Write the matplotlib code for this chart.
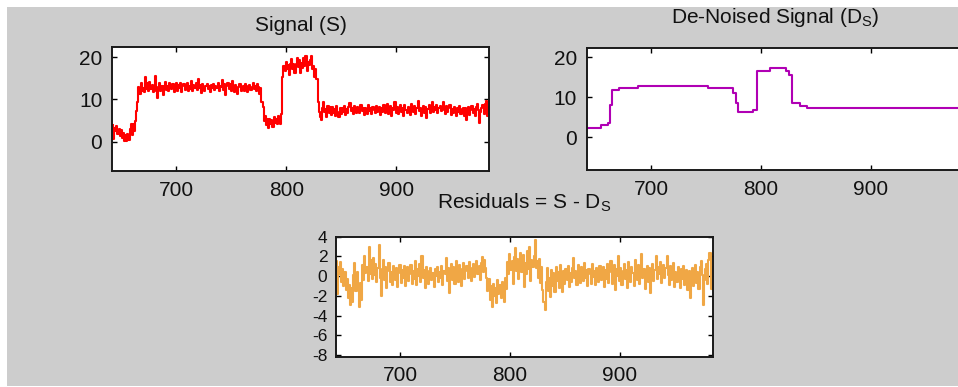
import numpy as np
import matplotlib
matplotlib.use('Agg')
from matplotlib import pyplot as plt
from matplotlib.patches import Rectangle

plt.rcParams['font.family'] = ['Liberation Sans', 'DejaVu Sans']
plt.rcParams['mathtext.fontset'] = 'custom'
plt.rcParams['mathtext.rm'] = 'Liberation Sans'
plt.rcParams['mathtext.it'] = 'Liberation Sans'
plt.rcParams['axes.unicode_minus'] = False

# sample index shown on the x axis
x = np.arange(642, 985)

# de-noised signal, read as runs of constant level
run_levels = [2.4, 3.0, 3.7, 8.0, 11.8, 12.3, 12.8, 12.3, 11.0, 8.5, 6.3, 6.8,
              16.6, 17.3, 16.5, 15.5, 8.5, 7.9, 7.4]
run_lengths = [13, 6, 2, 2, 6, 18, 63, 23, 3, 2, 13, 4,
               12, 14, 3, 3, 7, 6, 143]

# residuals S - Ds, one value per sample (642..984)
residuals = [
    1.5, -1.8, 0.9, 0.2, 1.4, -0.6, 0.7, -1.0, 0.4, -1.4,
    -0.3, -2.2, -0.9, -2.9, -1.2, -2.6, 0.1, 1.3, -1.5, 0.4,
    -1.1, -3.1, -0.7, -2.4, 1.1, -0.4, 2.0, 0.3, 0.9, -0.5,
    3.0, 0.2, 1.6, -0.3, 1.8, 0.1, 1.2, -0.6, 0.8, 3.2,
    -0.2, -2.0, 0.7, 1.6, -0.4, 0.9, -1.2, 0.5, 1.3, -0.6,
    0.4, -0.9, 1.0, 0.2, -0.4, 0.8, -1.1, 0.3, 1.1, -0.7,
    0.6, -0.2, 1.0, -1.0, 0.4, 0.9, -0.5, 0.2, 1.1, -0.8,
    0.5, -0.3, 1.5, -0.9, 0.7, 0.0, 1.2, -0.6, 2.0, -0.2,
    0.6, -1.2, 0.9, 0.1, -0.8, 0.5, 0.8, -0.4, 0.3, -1.1,
    0.7, 0.0, 0.9, -0.6, 0.4, -0.2, 1.0, -0.9, 0.5, 0.2,
    1.8, -0.5, 0.8, -1.7, 0.3, 1.2, -0.4, 0.9, -0.8, 1.5,
    0.2, -0.6, 1.1, 0.4, -1.0, 0.7, 1.3, -0.3, 0.5, 1.0,
    -0.2, 1.4, 0.3, -0.5, 0.8, 1.2, -0.1, 0.6, 1.5, 0.2,
    1.0, -0.4, 1.3, 1.9, 0.4, 1.6, 0.8, -0.2, -1.5, -0.3,
    -2.4, -1.0, -3.1, -0.8, -2.0, -1.2, -2.7, -0.4, -1.8, -0.9,
    -2.2, -0.6, -1.5, -2.6, -0.2, -1.3, 1.4, 0.2, 2.2, 0.6,
    1.5, -0.8, 1.9, 2.9, 0.5, 1.7, -0.3, 1.2, 2.4, 0.4,
    2.1, -1.1, 1.3, 0.2, 2.6, 0.7, 3.0, -0.5, 1.6, 0.9,
    2.0, 3.7, 0.8, 1.5, -0.2, 1.7, -0.7, 0.9, -1.4, -2.6,
    -3.4, -0.6, 0.8, -1.5, -0.2, -2.1, 0.6, -1.0, 0.3, -1.6,
    0.9, -0.5, 0.4, -1.2, 1.1, -0.3, -1.6, 0.5, -0.8, 0.7,
    -0.4, 1.0, -1.1, 0.3, -0.6, 0.8, 1.8, -0.2, 0.5, -0.9,
    1.1, 0.0, -0.7, 0.9, 0.4, -0.5, 1.3, -0.2, 0.6, -1.0,
    0.7, 0.2, -0.8, 1.2, -0.1, 0.5, -0.9, 0.8, 0.1, -0.6,
    1.0, -0.4, 0.3, 0.9, -1.1, 0.6, -0.3, 1.2, -0.7, 0.4,
    1.5, -0.8, 0.2, 1.1, -1.4, 0.7, 0.0, 2.0, -0.5, 0.8,
    -0.9, 0.5, 1.2, -0.3, 0.6, -1.2, 1.4, 0.1, -0.6, 0.9,
    0.3, -1.0, 1.6, 0.2, -0.4, 1.1, -0.8, 0.6, 2.2, -0.2,
    0.7, -1.3, 0.4, 1.0, -0.6, 0.8, -1.7, 0.3, 1.2, -0.5,
    0.6, 2.0, -0.3, 0.9, 0.2, 1.4, -0.7, 0.5, 1.1, -0.2,
    0.8, 2.0, 0.1, -0.9, 1.0, -0.4, 0.6, 1.3, -1.1, 0.4,
    -0.6, 0.9, 0.2, -1.2, 0.7, -0.3, 1.0, -0.9, 0.3, 0.6,
    -1.4, 0.5, -2.2, -0.5, 0.8, -1.0, 0.2, 1.1, -0.7, 0.4,
    -1.3, 0.9, 1.5, 0.1, -2.9, -0.4, 0.7, 1.2, -0.8, 1.6,
    2.3, -1.3, 0.9,
]

denoised = np.repeat(run_levels, run_lengths)
resid = np.array(residuals)
signal = denoised + resid

xticks = [700, 800, 900]
xlim = (641.5, 984.5)
txt = '#111111'

fig = plt.figure(figsize=(9.58, 3.87), dpi=100, facecolor='white')
fig.patches.append(Rectangle((7 / 958, 1 / 387), 1, (380 - 1) / 387,
                             transform=fig.transFigure, facecolor='#cdcdcd',
                             edgecolor='none', zorder=-10))

ax1 = fig.add_axes([112 / 958, 216 / 387, 377 / 958, 124 / 387])
ax2 = fig.add_axes([586.7 / 958, 217 / 387, 377 / 958, 121.7 / 387])
ax3 = fig.add_axes([335.7 / 958, 30.3 / 387, 377 / 958, 120 / 387])

ax1.plot(x, signal, color='#ff0000', lw=1.5, drawstyle='steps-mid')
ax1.set_ylim(-6.9, 22.4)
ax1.set_yticks([0, 10, 20])
ax1.set_title('Signal (S)', fontsize=15, color=txt, pad=11.5)

ax2.plot(x, denoised, color='#b000b4', lw=1.5, drawstyle='steps-mid')
ax2.set_ylim(-8.2, 22.3)
ax2.set_yticks([0, 10, 20])
ax2.set_title(r'De-Noised Signal (D$_\mathrm{S}$)', fontsize=15, color=txt, pad=18)

ax3.plot(x, resid, color='#f0a745', lw=1.5, drawstyle='steps-mid')
ax3.set_ylim(-8.15, 4)
ax3.set_yticks([-8, -6, -4, -2, 0, 2, 4])
ax3.set_title(r'Residuals = S - D$_\mathrm{S}$', fontsize=15, color=txt, pad=20)

for ax in [ax1, ax2, ax3]:
    ax.set_xlim(*xlim)
    ax.set_xticks(xticks)
    ax.set_facecolor('white')
    for sp in ax.spines.values():
        sp.set_linewidth(1.4)
        sp.set_color('#1a1a1a')
    ax.tick_params(direction='in', length=3.5, width=1, top=True, right=True,
                   labelsize=15, labelcolor=txt, pad=7)
    ax.tick_params(axis='x', pad=7)

ax3.tick_params(axis='y', labelsize=12.5, pad=6)

plt.savefig('out.png', dpi=100, facecolor=fig.get_facecolor())
